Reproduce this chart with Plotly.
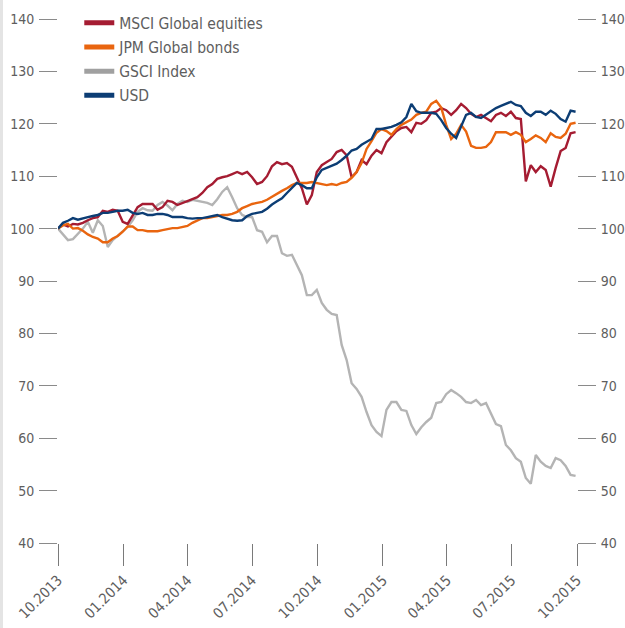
import pandas as pd
import plotly.graph_objects as go

# Weekly observation dates (Oct 2013 - Sep 2015)
dates = pd.date_range("2013-10-01", periods=105, freq="7D")

msci = [100.0, 100.8, 100.4, 100.9, 100.8, 101.1, 101.6, 102.0, 102.2, 103.4,
        103.2, 103.6, 103.4, 101.3, 100.9, 102.6, 104.1, 104.7, 104.7, 104.7,
        103.6, 104.1, 105.3, 105.1, 104.5, 104.9, 105.3, 105.6, 106.0, 106.8,
        107.9, 108.5, 109.5, 109.8, 110.0, 110.4, 110.8, 110.4, 110.8, 109.8,
        108.5, 108.9, 110.0, 111.9, 112.7, 112.3, 112.5, 111.8, 109.8, 107.7,
        104.6, 106.4, 110.8, 112.1, 112.7, 113.3, 114.6, 115.0, 114.0, 109.8,
        110.8, 113.1, 112.3, 113.9, 115.0, 114.4, 116.5, 117.5, 118.6, 119.2,
        119.4, 118.4, 120.2, 120.0, 120.7, 122.1, 122.3, 123.0, 122.6, 121.7,
        122.6, 123.8, 123.0, 121.9, 121.3, 121.7, 121.1, 120.5, 121.7, 122.1,
        121.5, 122.3, 121.1, 120.9, 109.0, 112.1, 110.8, 111.9, 111.2, 108.0,
        111.6, 114.8, 115.4, 118.2, 118.4]

jpm = [100.0, 100.6, 100.9, 100.0, 100.1, 99.6, 98.9, 98.4, 98.1, 97.4,
       97.4, 98.1, 98.6, 99.4, 100.4, 100.4, 99.7, 99.7, 99.5, 99.5,
       99.5, 99.7, 99.9, 100.1, 100.1, 100.3, 100.5, 101.1, 101.6, 102.0,
       102.0, 102.2, 102.4, 102.6, 102.6, 102.8, 103.2, 103.9, 104.3, 104.7,
       104.9, 105.1, 105.5, 106.1, 106.7, 107.2, 107.7, 108.3, 108.7, 108.7,
       108.7, 108.9, 108.7, 108.5, 108.3, 108.5, 108.3, 108.7, 108.9, 109.7,
       110.8, 112.5, 115.2, 116.7, 118.3, 119.0, 118.6, 117.9, 119.0, 119.8,
       120.3, 120.8, 121.7, 122.1, 122.3, 123.8, 124.4, 123.1, 119.8, 117.1,
       118.1, 119.8, 118.5, 115.8, 115.4, 115.4, 115.6, 116.5, 118.4, 118.4,
       118.4, 117.9, 118.4, 117.9, 116.5, 117.1, 117.8, 117.3, 116.5, 118.2,
       117.5, 117.3, 118.1, 120.0, 120.2]

gsci = [100.0, 98.8, 97.8, 98.0, 99.0, 100.0, 101.3, 99.2, 101.6, 100.5,
        96.5, 97.8, 98.6, 99.4, 100.3, 101.6, 103.2, 103.9, 103.5, 103.4,
        104.5, 105.1, 104.4, 103.5, 104.7, 105.3, 105.1, 105.5, 105.3, 105.1,
        104.9, 104.5, 105.6, 107.0, 107.9, 106.0, 103.9, 102.6, 102.2, 102.2,
        99.7, 99.4, 97.4, 98.6, 98.6, 95.3, 94.8, 95.0, 93.1, 91.1,
        87.3, 87.3, 88.3, 85.8, 84.5, 83.7, 83.5, 77.8, 74.9, 70.5,
        69.4, 67.9, 65.0, 62.5, 61.2, 60.4, 65.4, 66.9, 66.9, 65.4,
        65.2, 62.5, 60.8, 62.1, 63.1, 63.9, 66.7, 66.9, 68.4, 69.2,
        68.6, 67.9, 66.9, 66.7, 67.3, 66.3, 66.7, 64.8, 62.7, 62.3,
        58.7, 57.7, 56.2, 55.5, 52.4, 51.3, 56.8, 55.5, 54.7, 54.3,
        56.2, 55.8, 54.7, 53.0, 52.8]

usd = [100.0, 101.1, 101.5, 102.0, 101.7, 102.0, 102.2, 102.4, 102.6, 103.0,
       103.0, 103.2, 103.4, 103.4, 103.6, 103.0, 102.8, 103.0, 102.6, 102.6,
       102.8, 102.8, 102.6, 102.2, 102.2, 102.2, 102.0, 101.9, 102.0, 102.0,
       102.2, 102.4, 102.6, 102.2, 101.9, 101.6, 101.5, 101.6, 102.4, 102.8,
       103.0, 103.2, 103.8, 104.6, 105.2, 105.8, 106.8, 107.7, 108.7, 108.3,
       107.7, 107.7, 109.8, 111.2, 111.6, 112.0, 112.4, 113.1, 113.9, 114.9,
       115.2, 116.0, 116.5, 117.1, 119.0, 119.0, 119.2, 119.4, 119.8, 120.3,
       121.3, 123.8, 122.4, 122.1, 122.1, 122.1, 121.9, 120.7, 119.2, 118.1,
       117.3, 119.4, 121.7, 122.1, 121.3, 121.1, 121.7, 122.3, 123.0, 123.4,
       123.8, 124.2, 123.6, 123.4, 122.1, 121.5, 122.3, 122.3, 121.7, 122.5,
       121.9, 120.9, 120.4, 122.5, 122.3]

series_names = ["MSCI Global equities", "JPM Global bonds", "GSCI Index", "USD"]
series_colors = ["#A51C32", "#E9650F", "#B4B4B4", "#0C3D74"]
legend_colors = ["#A51C32", "#E9650F", "#A0A0A0", "#0C3D74"]

x_tickvals = ["2013-10-01", "2014-01-01", "2014-04-01", "2014-07-01", "2014-10-01",
              "2015-01-01", "2015-04-01", "2015-07-01", "2015-10-01"]
x_ticktext = ["10.2013", "01.2014", "04.2014", "07.2014", "10.2014",
              "01.2015", "04.2015", "07.2015", "10.2015"]
y_tickvals = [40, 50, 60, 70, 80, 90, 100, 110, 120, 130, 140]

FONT = "Liberation Sans Narrow, DejaVu Sans Condensed, Arial Narrow, sans-serif"
TXT = "#5e5e5e"

fig = go.Figure()

values = {"MSCI Global equities": msci, "JPM Global bonds": jpm,
          "GSCI Index": gsci, "USD": usd}
draw_order = [2, 0, 1, 3]
for k in draw_order:
    name = series_names[k]
    fig.add_trace(go.Scatter(x=dates, y=values[name], mode="lines", name=name,
                             line=dict(color=series_colors[k], width=2.4),
                             showlegend=False, hoverinfo="skip"))

for k, name in enumerate(series_names):
    fig.add_trace(go.Scatter(x=[None], y=[None], mode="lines", name=name,
                             line=dict(color=legend_colors[k], width=5),
                             legendgroup="g%d" % k, showlegend=True))

# invisible trace on the right-hand axis so it is drawn
fig.add_trace(go.Scatter(x=[None], y=[None], yaxis="y2", showlegend=False,
                         hoverinfo="skip"))

yax = dict(range=[40, 140], tickvals=y_tickvals, automargin=False,
           ticks="outside", ticklen=18, tickcolor="#8a8a8a", tickwidth=1,
           ticklabelstandoff=2,
           showgrid=False, zeroline=False, showline=False,
           tickfont=dict(family=FONT, size=14, color=TXT))

fig.update_layout(
    width=625, height=628,
    margin=dict(l=58, r=48, t=19, b=85, autoexpand=False),
    paper_bgcolor="white", plot_bgcolor="white",
    font=dict(family=FONT, size=15, color=TXT),
    xaxis=dict(type="date", range=["2013-10-01", "2015-10-01"], automargin=False,
               tickvals=x_tickvals, ticktext=x_ticktext, tickangle=-45,
               ticks="outside", ticklen=22, tickcolor="#7a7a7a", tickwidth=1,
               showgrid=False, zeroline=False, showline=False,
               tickfont=dict(family=FONT, size=14.5, color=TXT)),
    yaxis=yax,
    yaxis2=dict(yax, overlaying="y", side="right"),
    legend=dict(x=0.041, y=0.99, xref="paper", yref="container",
                xanchor="left", yanchor="top",
                bgcolor="rgba(0,0,0,0)", tracegroupgap=1,
                font=dict(family=FONT, size=15.5, color=TXT)),
    shapes=[dict(type="rect", xref="paper", yref="paper",
                 x0=-58/519, x1=-55/519, y0=-85/524, y1=1 + 19/524,
                 fillcolor="#e4e4e4", line=dict(width=0), layer="below")],
)

fig.write_html("out.html",
               config={"displayModeBar": False},
               post_script="document.body.style.margin='0';"
                           "document.body.style.overflow='hidden';")
